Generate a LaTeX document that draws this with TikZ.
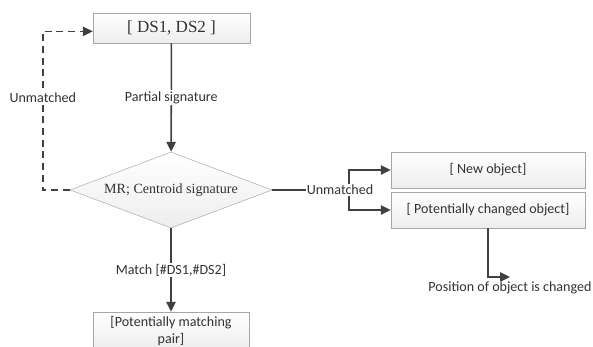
\documentclass[tikz,border=0pt]{standalone}
\usepackage{fontspec}
\setmainfont{Liberation Serif}
\newfontfamily\calfont{Carlito}
\usetikzlibrary{arrows.meta,shapes.geometric,shadows,positioning}
\tikzset{>={Triangle[length=8.5pt,width=8pt]}}
\definecolor{linegray}{HTML}{404040}
\definecolor{boxgray}{HTML}{A6A6A6}
\definecolor{txtgray}{HTML}{333333}

\begin{document}
\begin{tikzpicture}[x=0.03cm,y=-0.03cm,
    stepbox/.style={draw=boxgray,top color=white,bottom color=gray!14,
      drop shadow={shadow xshift=1pt,shadow yshift=-1pt,fill=gray!60,opacity=0.5},
      text=txtgray,inner sep=2pt,font=\calfont\fontsize{12}{14.5}\selectfont},
    decision/.style={diamond,shape aspect=2.66,draw=boxgray,top color=white,bottom color=gray!14,
      text=txtgray,inner sep=0pt,minimum width=6.06cm,minimum height=2.28cm,
      font=\fontsize{12}{14}\selectfont},
    lbl/.style={fill=white,text=txtgray,inner sep=1pt,font=\calfont\fontsize{12}{14}\selectfont},
    conn/.style={draw=linegray,line width=1.3pt}]

    \useasboundingbox (0,0) rectangle (593,347);

    % boxes
    \node[stepbox,minimum width=4.71cm,minimum height=0.9cm,
      font=\fontsize{14.5}{17}\selectfont] (ds) at (171.5,28) {[ DS1, DS2 ]};
    \node[decision] (mr) at (171,190) {MR; Centroid signature};
    \node[stepbox,minimum width=4.68cm,minimum height=1.14cm,align=center] (pair) at (171,331)
      {[Potentially matching\\pair]};
    \node[stepbox,minimum width=5.82cm,minimum height=1.08cm] (newobj) at (488,170) {[ New object]};
    \node[stepbox,minimum width=5.82cm,minimum height=1.08cm] (pcobj) at (488,210) {[ Potentially changed object]};

    % connectors
    \draw[conn,->] (ds) -- node[lbl]{Partial signature} (mr);
    \draw[conn,->,dash pattern=on 6pt off 4pt] (mr.west) -- ++(-27,0)
      |- node[lbl,pos=0.29]{Unmatched} ([yshift=-0.1cm]ds.west);
    \draw[conn,->] (mr) -- node[lbl]{Match [\#DS1,\#DS2]} (pair);

    \coordinate (split) at (349,190);
    \draw[conn] (mr.east) -- (split);
    \draw[conn,->] (split) |- (newobj.west);
    \draw[conn,->] (split) |- (pcobj.west);
    \node[lbl] (unmright) at (340,190) {Unmatched};

    \coordinate (posend) at (510,277);
    \draw[conn,->] (pcobj.south) |- (posend);
    \node[lbl,below=3pt of posend] (poslbl) {Position of object is changed};
\end{tikzpicture}
\end{document}
